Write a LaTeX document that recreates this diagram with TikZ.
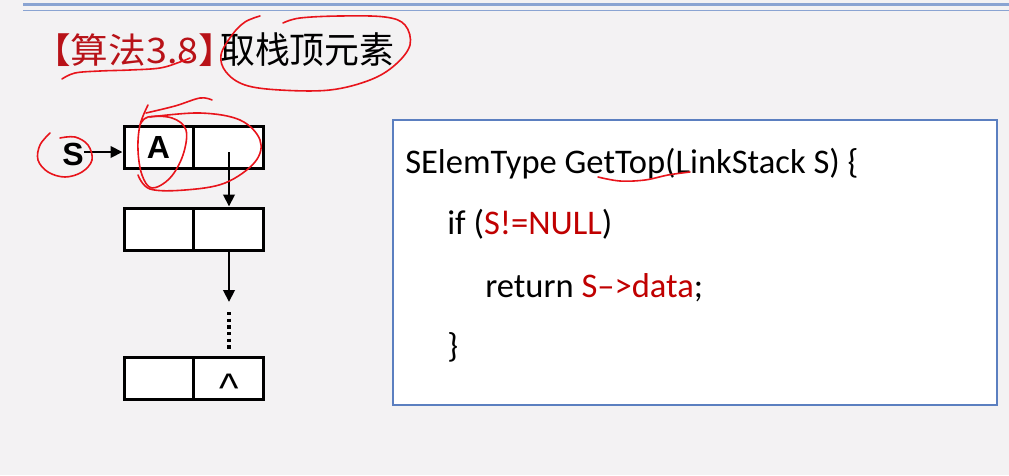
\documentclass[tikz,border=0pt]{standalone}
\usepackage{fontspec}
\setmainfont{Carlito}
\newfontfamily\cjk{Noto Sans CJK SC}
\newfontfamily\arialb{Liberation Sans}
\usetikzlibrary{arrows.meta}
\definecolor{bgc}{HTML}{F3F2F3}
\definecolor{titlered}{HTML}{B81218}
\definecolor{codered}{HTML}{C00000}
\definecolor{boxblue}{HTML}{5B7FC0}
\definecolor{rulblue}{HTML}{8AA4D2}
\definecolor{penred}{HTML}{E8141B}
\tikzset{
  cellbox/.style={draw=black, line width=2.25pt, fill=white, minimum height=31.5pt, inner sep=0pt},
  ptr/.style={line width=2.2pt, -{Triangle[length=9pt,width=8.5pt]}},
  codetext/.style={anchor=base west, inner sep=0pt, font=\fontsize{25.9pt}{30pt}\selectfont},
  pen/.style={penred, line width=1.2pt, line cap=round, line join=round},
  bigsans/.style={font=\arialb\bfseries\fontsize{24pt}{26pt}\selectfont},
}
\begin{document}
\begin{tikzpicture}[x=0.75pt,y=-0.75pt]
\fill[bgc] (0,0) rectangle (1009,475);
\useasboundingbox (0,0) rectangle (1009,475);
% top rules
\draw[rulblue, line width=2.25pt] (23,4) -- (1009,4);
\draw[rulblue, line width=1.1pt] (23,10.5) -- (1009,10.5);
% title
\node[anchor=west, inner sep=0pt, xscale=1.07, text=titlered, font=\cjk\fontsize{26.4pt}{30pt}\selectfont] (t1) at (33,50) {【算法3.8】};
\node[anchor=west, inner sep=0pt, xscale=0.95, font=\cjk\fontsize{27.5pt}{30pt}\selectfont] (t2) at (220,50) {取栈顶元素};
% linked stack
\node[cellbox, minimum width=51.75pt, bigsans] (a1) at (158.5,147) {A};
\node[cellbox, minimum width=52.5pt] (p1) at (228,147) {};
\node[cellbox, minimum width=51.75pt] (a2) at (158.5,229) {};
\node[cellbox, minimum width=52.5pt] (p2) at (228,229) {};
\node[cellbox, minimum width=51.75pt] (a3) at (158.5,378) {};
\node[cellbox, minimum width=52.5pt] (p3) at (228,378) {};
\node[anchor=base, inner sep=0pt, font=\arialb\fontsize{31pt}{33pt}\selectfont] (caret) at (229,402) {\char"5E};
\node[inner sep=0pt, bigsans] (s) at (73,154) {S};
\coordinate (p1c) at (229,152);
\coordinate (arr2) at (229,302);
\coordinate (dot1) at (229,312);
\coordinate (dot2) at (229,350);
\draw[ptr] (s.east |- p1c) -- (a1.west |- p1c);
\draw[ptr] (p1c) -- (p1c |- p2.north);
\draw[ptr] (p1c |- p2.south) -- (arr2);
\draw[line width=2.4pt, dash pattern=on 2.6pt off 2.4pt] (dot1) -- (dot2);
% code box
\node[draw=boxblue, line width=1.5pt, fill=white, minimum width=453pt, minimum height=213.75pt, inner sep=0pt] (code) at (695,262.5) {};
\node[codetext] (l1) at (405,173) {SElemType GetTop(LinkStack S) \{};
\node[codetext] (l2) at (447,234) {if (\textcolor{codered}{S!=NULL})};
\node[codetext] (l3) at (485,297) {return \textcolor{codered}{S–>data};};
\node[codetext] (l4) at (447,357) {\}};
% red pen annotations
\draw[pen] plot[smooth, tension=0.6] coordinates {(260,16) (245,22) (232,35) (221,55) (226,72) (245,85) (280,90) (330,90) (370,80) (395,65) (410,45) (405,25) (385,17) (340,16) (300,18) (283,23)};
\draw[pen] plot[smooth, tension=0.6] coordinates {(62,79) (75,73) (100,71) (130,70) (160,68) (180,62) (190,58)};
\draw[pen] plot[smooth, tension=0.6] coordinates {(50,133) (40,145) (38,160) (48,172) (65,177) (82,172) (92,160) (88,145) (75,137) (60,138)};
\draw[pen] plot[smooth, tension=0.6] coordinates {(148,105) (140,125) (138,150) (142,175) (152,188) (170,178) (183,155) (186,130) (172,118) (148,117) (140,125)};
\draw[pen] plot[smooth, tension=0.6] coordinates {(146,113) (175,106) (200,98) (212,100)};
\draw[pen] plot[smooth, tension=0.6] coordinates {(150,117) (200,113) (240,120) (260,140) (255,162) (225,183) (185,190) (150,189) (138,175)};
\draw[pen] plot[smooth, tension=0.6] coordinates {(598,177) (620,181) (645,180) (668,175) (690,172)};
\end{tikzpicture}
\end{document}
